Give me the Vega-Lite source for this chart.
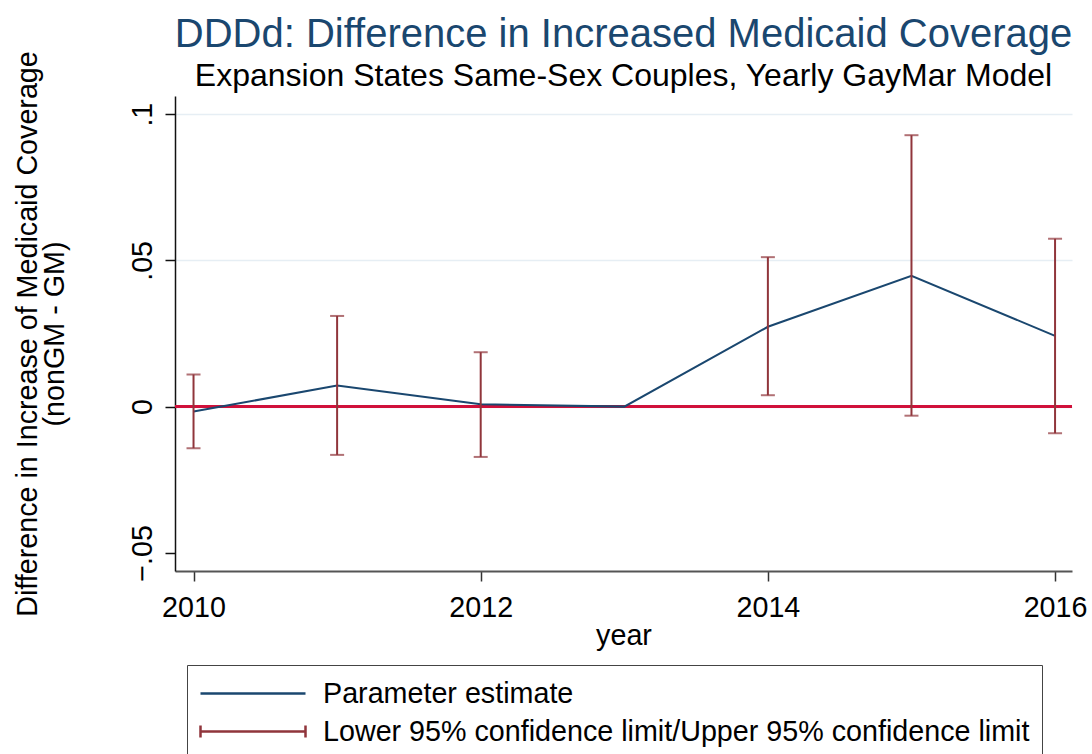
{
  "$schema": "https://vega.github.io/schema/vega-lite/v6.json",
  "width": 897,
  "height": 475,
  "autosize": {"type": "none"},
  "padding": {"left": 175, "top": 96, "right": 20, "bottom": 183},
  "background": "white",
  "title": {
    "text": "DDDd: Difference in Increased Medicaid Coverage",
    "subtitle": "Expansion States Same-Sex Couples, Yearly GayMar Model",
    "anchor": "middle",
    "frame": "group",
    "font": "Liberation Sans",
    "fontSize": 40,
    "fontWeight": "normal",
    "color": "#1a476f",
    "subtitleFont": "Liberation Sans",
    "subtitleFontSize": 32,
    "subtitleColor": "#000000",
    "subtitlePadding": 6,
    "offset": -41
  },
  "data": {
    "values": [
      {"year": 2010, "est": -0.0017, "lo": -0.0142, "hi": 0.0110},
      {"year": 2011, "est": 0.0072, "lo": -0.0165, "hi": 0.0310},
      {"year": 2012, "est": 0.0008, "lo": -0.0172, "hi": 0.0186},
      {"year": 2013, "est": 0.0, "lo": null, "hi": null},
      {"year": 2014, "est": 0.0273, "lo": 0.0039, "hi": 0.0511},
      {"year": 2015, "est": 0.0447, "lo": -0.0031, "hi": 0.0928},
      {"year": 2016, "est": 0.0242, "lo": -0.0091, "hi": 0.0574}
    ]
  },
  "config": {
    "font": "Liberation Sans",
    "view": {"stroke": null},
    "axis": {
      "labelFont": "Liberation Sans",
      "labelFontSize": 28.7,
      "labelColor": "#000000",
      "titleFont": "Liberation Sans",
      "titleFontSize": 28.7,
      "titleFontWeight": "normal",
      "titleColor": "#000000"
    }
  },
  "layer": [
    {
      "mark": {"type": "rule", "color": "#d0103a", "strokeWidth": 2},
      "encoding": {
        "y": {
          "datum": 0,
          "type": "quantitative",
          "scale": {"domain": [-0.0562, 0.1062], "nice": false, "zero": false},
          "axis": {
            "values": [-0.05, 0, 0.05, 0.1],
            "labelExpr": "replace(format(datum.value, '.2~f'), '0.', '.')",
            "labelAngle": -90,
            "title": ["Difference in Increase of Medicaid Coverage", "(nonGM - GM)"],
            "titleLineHeight": 27,
            "titlePadding": 59,
            "grid": true,
            "gridColor": {"condition": {"test": "datum.value < 0", "value": "transparent"}, "value": "#e6eef4"},
            "gridWidth": 1.5,
            "tickSize": 10,
            "labelPadding": 8,
            "domainColor": "#111111",
            "domainWidth": 1.5,
            "tickColor": "#111111",
            "tickWidth": 1.5
          }
        }
      }
    },
    {
      "mark": {"type": "line", "strokeWidth": 2},
      "encoding": {
        "x": {
          "field": "year",
          "type": "quantitative",
          "scale": {"domain": [2009.871, 2016.118], "nice": false, "zero": false},
          "axis": {
            "values": [2010, 2012, 2014, 2016],
            "format": "d",
            "title": "year",
            "grid": false,
            "tickSize": 10,
            "labelPadding": 12,
            "titlePadding": 0,
            "domainColor": "#555555",
            "domainWidth": 2,
            "tickColor": "#333333",
            "tickWidth": 1.5
          }
        },
        "y": {"field": "est", "type": "quantitative"},
        "color": {
          "datum": "Parameter estimate",
          "type": "nominal",
          "scale": {
            "domain": ["Parameter estimate", "Lower 95% confidence limit/Upper 95% confidence limit"],
            "range": ["#1a476f", "#90353b"]
          },
          "legend": {
            "orient": "none",
            "legendX": 12,
            "legendY": 569,
            "title": null,
            "direction": "vertical",
            "symbolSize": 900,
            "symbolStrokeWidth": 2.5,
            "labelFont": "Liberation Sans",
            "labelFontSize": 28.7,
            "labelColor": "#000000",
            "labelOffset": 91,
            "labelLimit": 1000,
            "labelExpr": "datum.label + '\u00a0\u00a0'",
            "rowPadding": 6,
            "padding": 12,
            "strokeColor": "#444444",
            "fillColor": "#ffffff",
            "encode": {
              "symbols": {
                "update": {
                  "shape": {"signal": "datum.value === 'Parameter estimate' ? 'M-1,0H6' : 'M-1,-0.4V0.4M-1,0H6M6,-0.4V0.4'"},
                  "stroke": {"signal": "datum.value === 'Parameter estimate' ? '#1a476f' : '#90353b'"},
                  "fill": {"value": "transparent"},
                  "strokeWidth": {"value": 2.5}
                }
              }
            }
          }
        }
      }
    },
    {
      "transform": [{"filter": "isValid(datum.lo)"}],
      "mark": {"type": "rule", "strokeWidth": 2},
      "encoding": {
        "x": {"field": "year", "type": "quantitative"},
        "y": {"field": "lo", "type": "quantitative"},
        "y2": {"field": "hi"},
        "color": {"datum": "Lower 95% confidence limit/Upper 95% confidence limit", "type": "nominal"}
      }
    },
    {
      "transform": [{"filter": "isValid(datum.lo)"}],
      "mark": {"type": "tick", "orient": "horizontal", "size": 14, "thickness": 2},
      "encoding": {
        "x": {"field": "year", "type": "quantitative"},
        "y": {"field": "lo", "type": "quantitative"},
        "color": {"datum": "Lower 95% confidence limit/Upper 95% confidence limit", "type": "nominal"}
      }
    },
    {
      "transform": [{"filter": "isValid(datum.hi)"}],
      "mark": {"type": "tick", "orient": "horizontal", "size": 14, "thickness": 2},
      "encoding": {
        "x": {"field": "year", "type": "quantitative"},
        "y": {"field": "hi", "type": "quantitative"},
        "color": {"datum": "Lower 95% confidence limit/Upper 95% confidence limit", "type": "nominal"}
      }
    }
  ]
}
